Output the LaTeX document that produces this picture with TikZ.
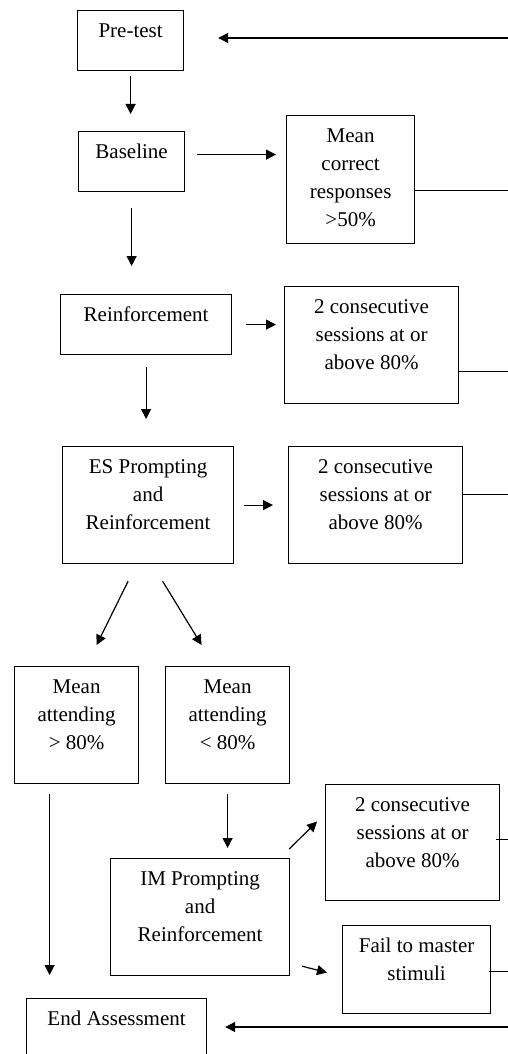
\documentclass[tikz,border=0pt]{standalone}
\usepackage{fontspec}
\setmainfont{Liberation Serif}
\usetikzlibrary{arrows.meta,calc}

% text set at the top of a fixed-size box
\newcommand{\stagetext}[3]{\parbox[c][#2][t]{#1}{\centering\rule{0pt}{13.6pt}#3}}

\begin{document}
\begin{tikzpicture}[x=0.5pt,y=-0.5pt,line join=miter]
  % ----- styles -----
  \tikzset{
    stage/.style={draw=black,line width=0.6pt,inner sep=0pt,anchor=north west,
      font=\fontsize{10.5}{14}\selectfont},
    arr/.style={draw=black,line width=0.6pt,-{Triangle[length=5pt,width=5pt]}},
    link/.style={draw=black,line width=0.6pt}
  }

  % ----- frame -----
  \useasboundingbox (0,0) rectangle (508,1054);
  \clip (0,0) rectangle (508,1054);
  \coordinate (rim) at (512,0);   % right edge, where the loop lines leave

  % ----- boxes -----
  \node[stage] (pretest)  at (77,10)   {\stagetext{53pt}{30pt}{Pre-test}};
  \node[stage] (baseline) at (78,131)  {\stagetext{53pt}{30pt}{Baseline}};
  \node[stage] (correct)  at (286,115) {\stagetext{64pt}{64pt}{Mean\\ correct\\ responses\\ >50\%}};
  \node[stage] (reinf)    at (60,294)  {\stagetext{85.5pt}{30pt}{Reinforcement}};
  \node[stage] (critA)    at (284,286) {\stagetext{87pt}{58.5pt}{2 consecutive\\ sessions at or\\ above 80\%}};
  \node[stage] (es)       at (62,446)  {\stagetext{85.5pt}{58.5pt}{ES Prompting\\ and\\ Reinforcement}};
  \node[stage] (critB)    at (288,446) {\stagetext{87pt}{58.5pt}{2 consecutive\\ sessions at or\\ above 80\%}};
  \node[stage] (above)    at (14,666)  {\stagetext{62pt}{58.5pt}{Mean\\ attending\\ > 80\%}};
  \node[stage] (below)    at (165,666) {\stagetext{62pt}{58.5pt}{Mean\\ attending\\ < 80\%}};
  \node[stage] (critC)    at (325,784) {\stagetext{87pt}{58pt}{2 consecutive\\ sessions at or\\ above 80\%}};
  \node[stage] (im)       at (110,858) {\stagetext{89.5pt}{58.5pt}{IM Prompting\\ and\\ Reinforcement}};
  \node[stage] (fail)     at (342,925) {\stagetext{74pt}{44pt}{Fail to master\\ stimuli}};
  \node[stage] (endass)   at (26,998)  {\stagetext{90pt}{30pt}{End Assessment}};

  % ----- helper points -----
  \coordinate (rtop) at (512,38);
  \coordinate (rbot) at (512,1027);
  \coordinate (bA) at ($(baseline.east)+(0,-7)$);
  \coordinate (cA) at ($(correct.east)+(0,11)$);
  \coordinate (kA) at ($(critA.east)+(0,26.5)$);
  \coordinate (kB) at ($(critB.east)+(0,-10.5)$);
  \coordinate (kC) at ($(critC.east)+(-4,-3)$);
  \coordinate (fA) at ($(fail.east)+(-2,2)$);
  \coordinate (aS) at ($(above.south)+(-27,0)$);

  % ----- main column -----
  \draw[arr,shorten <=2.5pt,shorten >=8.5pt] (pretest.south) -- (pretest.south |- baseline.north);
  \draw[arr,shorten <=8pt,shorten >=14pt] (baseline.south) -- (baseline.south |- reinf.north);
  \draw[arr,shorten <=6pt,shorten >=13.5pt] (reinf.south) -- (reinf.south |- es.north);
  \draw[arr] ($(es.south)+(-20,17)$) -- ($(above.north)+(20,-21)$);
  \draw[arr] ($(es.south)+(14.5,17)$) -- ($(below.north)+(-26,-21)$);
  \draw[arr,shorten <=5pt,shorten >=11.5pt] (aS) -- (aS |- endass.north);
  \draw[arr,shorten <=5pt,shorten >=5pt] (below.south) -- (below.south |- im.north);

  % ----- to the criteria -----
  \draw[arr,shorten <=6pt,shorten >=5pt] (bA) -- (bA -| correct.west);
  \draw[arr,shorten <=7pt,shorten >=4pt] (reinf.east) -- (reinf.east -| critA.west);
  \draw[arr,shorten <=5pt,shorten >=7.5pt] (es.east) -- (es.east -| critB.west);
  \draw[arr] ($(im.north east)+(-1,-9)$) -- ($(critC.west)+(-8,-21)$);
  \draw[arr] ($(im.south east)+(12,-10)$) -- ($(fail.west)+(-15,3)$);

  % ----- loop lines to the right edge -----
  \draw[link] (cA) -- (cA -| rim);
  \draw[link] (kA) -- (kA -| rim);
  \draw[link] (kB) -- (kB -| rim);
  \draw[link] (kC) -- (kC -| rim);
  \draw[link] (fA) -- (fA -| rim);
  \draw[arr,shorten >=17pt] (rtop) -- (rtop -| pretest.east);
  \draw[arr,shorten >=9pt] (rbot) -- (rbot -| endass.east);

\end{tikzpicture}
\end{document}
